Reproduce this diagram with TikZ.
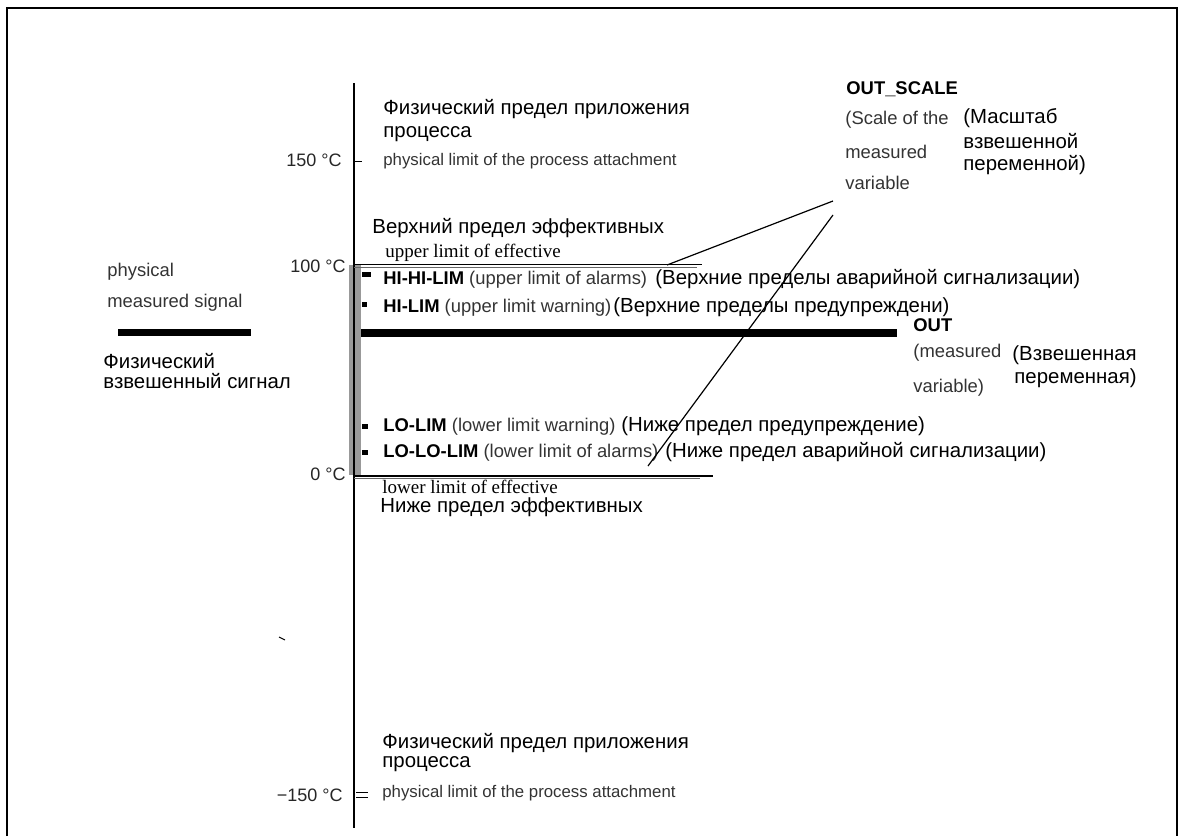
\documentclass[tikz,border=0pt]{standalone}
\usepackage{fontspec}
\setmainfont{Liberation Sans}
\newfontfamily\tms{Liberation Serif}

\begin{document}
\begin{tikzpicture}[x=0.5pt,y=-0.5pt,
        ru/.style={inner sep=0pt,anchor=base west,font=\fontsize{10.2}{12}\selectfont},
        en/.style={inner sep=0pt,anchor=base west,text=black!80,font=\fontsize{9.2}{11}\selectfont},
        enb/.style={en,text=black,font=\bfseries\fontsize{9.2}{11}\selectfont},
        lim/.style={inner sep=0pt,anchor=base west,text=black!80,font=\fontsize{8.4}{10}\selectfont},
        deg/.style={inner sep=0pt,anchor=base east,text=black!85,font=\fontsize{9}{11}\selectfont},
        eff/.style={inner sep=0pt,anchor=base west,font=\tms\fontsize{9.5}{11}\selectfont}]
        \useasboundingbox(0,0)rectangle(1183,836);
        \draw[line width=1pt](7,836)--(7,8)--(1177,8)--(1177,836);

        \fill[black!40](349,265)rectangle(361,475);
        \draw[line width=0.6pt](354,83)--(354,120);
        \draw[line width=1.1pt](354,120)--(354,828);
        \draw(354,161)--(362,161);
        \draw(356,792.7)--(368,792.7)(356,797.3)--(368,797.3);
        \draw[line width=0.7pt](354,264.5)--(702,264.5);
        \draw[line width=0.5pt,black!60](354,267)--(697,267);
        \draw[line width=0.7pt](354,476)--(713,476);
        \draw[line width=0.5pt,black!60](354,478)--(700,478);
        \draw[line width=3.8pt](361,333)--(897,333);
        \draw[line width=3.8pt](118,332.5)--(251,332.5);
        \draw[line width=0.5pt](279,637)--(285,640);

        \node[ru](topru1)at(383,114){Физический предел приложения};
        \node[ru](topru2)at(383,137){процесса};
        \node[lim](toplim)at(383,165){physical limit of the process attachment};
        \node[deg](t150)at(342,166){150 °C};

        \node[ru](upru)at(372,233){Верхний предел эффективных};
        \node[eff](upen)at(385,257){upper limit of effective};
        \node[deg](t100)at(346,272){100 °C};

        \fill(362,272)rectangle(371,276.5);
        \fill(362,302)rectangle(367,307);
        \fill(362,424)rectangle(368,429);
        \fill(362,450)rectangle(368,455);
        \node[en](hihi)at(383,284){{\color{black}\bfseries HI-HI-LIM} (upper limit of alarms)};
        \node[ru](hihiru)at(655,284){(Верхние пределы аварийной сигнализации)};
        \node[en](hi)at(383,312){{\color{black}\bfseries HI-LIM} (upper limit warning)};
        \node[ru](hiru)at(613,312){(Верхние пределы предупреждени)};
        \node[en](lo)at(383,431){{\color{black}\bfseries LO-LIM} (lower limit warning)};
        \node[ru](loru)at(621,431){(Ниже предел предупреждение)};
        \node[en](lolo)at(383,457){{\color{black}\bfseries LO-LO-LIM} (lower limit of alarms)};
        \node[ru](loloru)at(665,457){(Ниже предел аварийной сигнализации)};

        \node[deg](t0)at(346,480){0 °C};
        \node[eff](loen)at(382,493){lower limit of effective};
        \node[ru](loeffru)at(380,512){Ниже предел эффективных};

        \node[enb](out)at(913,331){OUT};
        \node[en](out1)at(913,357){(measured};
        \node[en](out2)at(913,392){variable)};
        \node[ru](outru1)at(1012,360){(Взвешенная};
        \node[ru,anchor=base east](outru2)at(1137,383){переменная)};

        \node[enb](scale)at(846,94){OUT\_SCALE};
        \node[en](sc1)at(845,124){(Scale of the};
        \node[en](sc2)at(845,158){measured};
        \node[en](sc3)at(845,189){variable};
        \node[ru](scru1)at(963,123){(Масштаб};
        \node[ru](scru2)at(963,148){взвешенной};
        \node[ru](scru3)at(963,170){переменной)};

        \node[en](ph1)at(107,276){physical};
        \node[en](ph2)at(107,307){measured signal};
        \node[ru](phru1)at(103,368){Физический};
        \node[ru](phru2)at(103,388){взвешенный сигнал};

        \node[ru](botru1)at(382,748){Физический предел приложения};
        \node[ru](botru2)at(382,767){процесса};
        \node[lim](botlim)at(382,797){physical limit of the process attachment};
        \node[deg](tm150)at(343,801){−150 °C};

        \coordinate(sa)at(833,201);
        \coordinate(sb)at(833,215);
        \coordinate(hitop)at(667,265);
        \coordinate(lobot)at(648,466);
        \draw[line width=0.6pt](sa)--(hitop)(sb)--(lobot);
\end{tikzpicture}
\end{document}
